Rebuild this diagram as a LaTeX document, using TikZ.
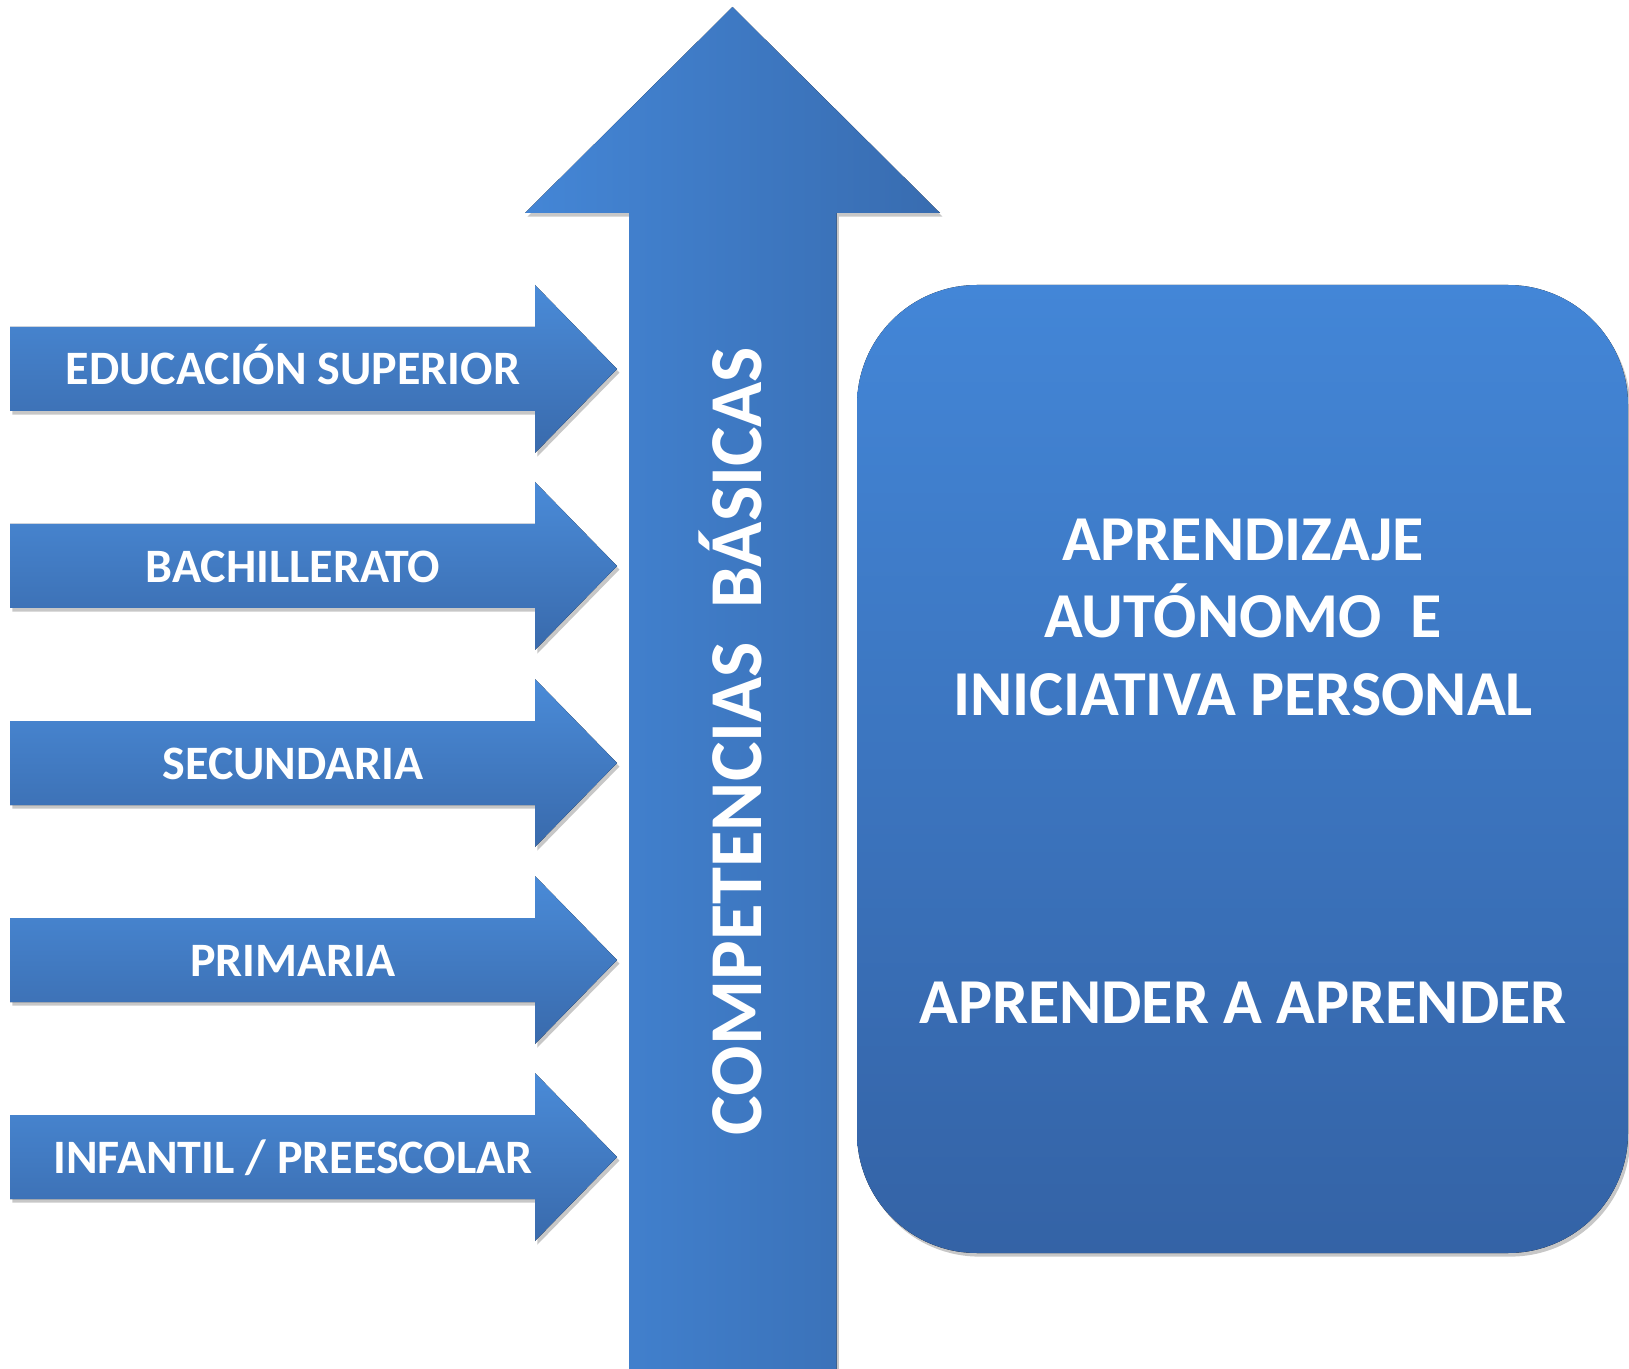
\documentclass[tikz,border=0pt]{standalone}
\usepackage{fontspec}
\setmainfont{Carlito}
\usetikzlibrary{shadows}
\definecolor{hlight}{RGB}{74,139,216}
\definecolor{hdark}{RGB}{57,106,172}
\definecolor{vlight}{RGB}{68,134,214}
\definecolor{vdark}{RGB}{56,108,176}
\definecolor{blight}{RGB}{67,134,215}
\definecolor{bdark}{RGB}{52,99,166}
\begin{document}
\begin{tikzpicture}[x=0.5pt,y=-0.5pt,
  shad/.style={drop shadow={shadow xshift=1.2pt,shadow yshift=-1.8pt,opacity=0.22,fill=black}},
  harrowstyle/.style={top color=hlight,bottom color=hdark,shad},
  vshaftstyle/.style={left color=vlight,right color=vdark,shad},
  boxstyle/.style={top color=blight,bottom color=bdark,shad},
  lbl/.style={text=white,inner sep=0pt,anchor=base,font=\bfseries\fontsize{24}{29}\selectfont},
  boxlbl/.style={text=white,inner sep=0pt,anchor=base,font=\bfseries\fontsize{32}{38}\selectfont},
  vlbl/.style={text=white,inner sep=0pt,anchor=base,rotate=90,font=\bfseries\fontsize{37.3}{45}\selectfont}]
\useasboundingbox (0,0) rectangle (1629,1369);
% big upward arrow
\fill[vshaftstyle] (629,1369) -- (629,213) -- (525,213) -- (732.5,7) -- (940,213) -- (836.5,213) -- (836.5,1369) -- cycle;
% horizontal arrows
\foreach \yc in {369,566,763,960,1157}{
  \fill[harrowstyle] (10,\yc-42) -- (535,\yc-42) -- (535,\yc-84) -- (617,\yc) -- (535,\yc+84) -- (535,\yc+42) -- (10,\yc+42) -- cycle;
}
\node[lbl] (l1) at (293,385) {EDUCACIÓN SUPERIOR};
\node[lbl] (l2) at (293,582) {BACHILLERATO};
\node[lbl] (l3) at (293,779) {SECUNDARIA};
\node[lbl] (l4) at (293,976) {PRIMARIA};
\node[lbl] (l5) at (293,1173) {INFANTIL / PREESCOLAR};
% vertical label
\node[vlbl] (comp) at (761,741) {COMPETENCIAS\ \ BÁSICAS};
% rounded box
\fill[boxstyle,rounded corners=60pt] (857,285) rectangle (1628,1253);
\node[boxlbl] (b1) at (1243,561) {APRENDIZAJE};
\node[boxlbl] (b2) at (1243,638) {AUTÓNOMO\ \ E};
\node[boxlbl] (b3) at (1243,715) {INICIATIVA PERSONAL};
\node[boxlbl] (b4) at (1243,1023) {APRENDER A APRENDER};
\end{tikzpicture}
\end{document}
